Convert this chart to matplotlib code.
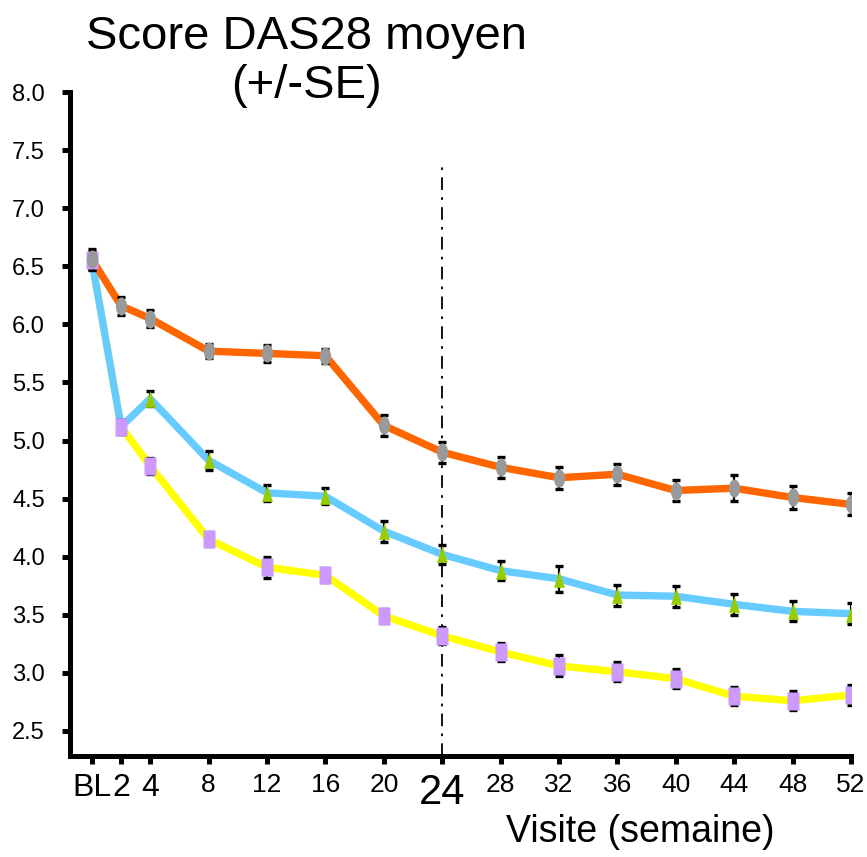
import numpy as np
import matplotlib
matplotlib.use('Agg')
from matplotlib import pyplot as plt
from matplotlib.path import Path
from matplotlib.transforms import Affine2D

plt.rcParams['font.family'] = ['Liberation Sans', 'DejaVu Sans']

weeks = [0, 2, 4, 8, 12, 16, 20, 24, 28, 32, 36, 40, 44, 48, 52]
week_labels = ['BL', '2', '4', '8', '12', '16', '20', '24', '28', '32', '36', '40', '44', '48', '52']

orange_mean = [6.56, 6.16, 6.05, 5.77, 5.75, 5.73, 5.13, 4.90, 4.77, 4.68, 4.71, 4.57, 4.59, 4.51, 4.45]
orange_se = [0.09, 0.075, 0.07, 0.06, 0.07, 0.06, 0.09, 0.09, 0.09, 0.095, 0.09, 0.09, 0.11, 0.10, 0.095]

blue_mean = [6.55, 5.12, 5.36, 4.83, 4.55, 4.52, 4.22, 4.02, 3.88, 3.81, 3.67, 3.66, 3.59, 3.53, 3.51]
blue_se = [0.07, 0.06, 0.065, 0.08, 0.07, 0.07, 0.09, 0.08, 0.08, 0.11, 0.09, 0.09, 0.09, 0.085, 0.09]

yellow_mean = [6.55, 5.12, 4.78, 4.15, 3.91, 3.84, 3.49, 3.32, 3.18, 3.06, 3.01, 2.95, 2.80, 2.76, 2.81]
yellow_se = [0.07, 0.06, 0.07, 0.06, 0.09, 0.06, 0.06, 0.075, 0.08, 0.09, 0.08, 0.08, 0.075, 0.08, 0.09]

yticks = [2.5, 3.0, 3.5, 4.0, 4.5, 5.0, 5.5, 6.0, 6.5, 7.0, 7.5, 8.0]
ref_week = 24
ref_top = 7.41

# tall marker shapes
ellipse = Path.unit_circle().transformed(Affine2D().scale(0.62, 1.0))
rect = Path([(-0.7, -1), (0.7, -1), (0.7, 1), (-0.7, 1), (-0.7, -1)])
tri = Path([(-0.65, -1), (0.65, -1), (0, 1), (-0.65, -1)])

fig = plt.figure(figsize=(8.67, 8.57), dpi=100)
ax = fig.add_axes([0.0807, 0.1179, 0.9008, 0.7747])

lw = 5.3
ax.plot(weeks, yellow_mean, color='#FFFF00', lw=lw, zorder=2, solid_capstyle='butt')
ax.plot(weeks, blue_mean, color='#66CCFF', lw=lw, zorder=2.1, solid_capstyle='butt')
ax.plot(weeks, orange_mean, color='#FF6600', lw=lw, zorder=2.2, solid_capstyle='butt')

for mean, se in [(orange_mean, orange_se), (blue_mean, blue_se), (yellow_mean, yellow_se)]:
    ax.errorbar(weeks, mean, yerr=se, fmt='none', ecolor='black', elinewidth=1.6,
                capsize=3, capthick=2.4, zorder=2.5)

ax.plot(weeks, blue_mean, ls='none', marker=tri, ms=12, color='#99CC00', mec='none', zorder=3)
ax.plot(weeks, yellow_mean, ls='none', marker=rect, ms=13, color='#CC99FF', mec='none', zorder=3.1)
ax.plot(weeks, orange_mean, ls='none', marker=ellipse, ms=13, color='#999999', mec='none', zorder=3.2)

ax.vlines(ref_week, 2.285, ref_top, colors='black', lw=1.3, linestyles=(0, (7, 4, 1.5, 4)), zorder=1)

ax.set_xlim(-1.5, 52)
ax.set_ylim(2.285, 8.0)
ax.set_xticks(weeks)
ax.set_xticklabels(week_labels)
ax.set_yticks(yticks)
ax.set_yticklabels(['{:.1f}'.format(v) for v in yticks], fontsize=17)

for lab in ax.get_xticklabels():
    t = lab.get_text()
    if t in ('BL', '2', '4'):
        lab.set_fontsize(23)
    elif t == '24':
        lab.set_fontsize(30)
    else:
        lab.set_fontsize(19)

for s in ['top', 'right']:
    ax.spines[s].set_visible(False)
for s in ['left', 'bottom']:
    ax.spines[s].set_linewidth(3.6)
ax.tick_params(axis='both', direction='out', width=3.6, length=6)
ax.tick_params(axis='y', pad=12)
ax.tick_params(axis='x', pad=6)

fig.text(0.353, 0.928, 'Score DAS28 moyen\n(+/-SE)', ha='center', va='center',
         fontsize=34, linespacing=1.15)
fig.text(0.738, 0.029, 'Visite (semaine)', ha='center', va='center', fontsize=27)

fig.savefig('out.png', dpi=100)
